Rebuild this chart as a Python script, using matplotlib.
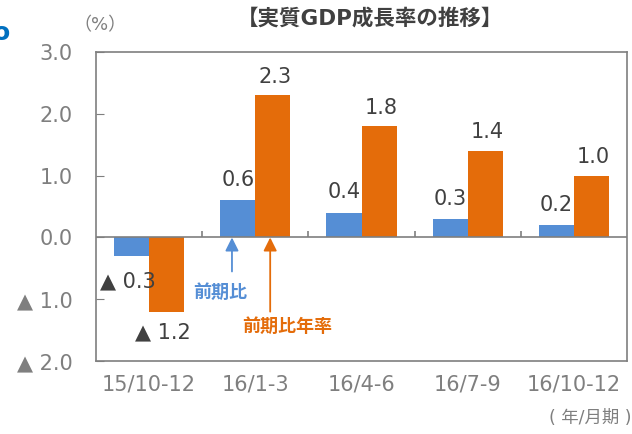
import matplotlib.pyplot as plt
import numpy as np

plt.rcParams['font.family'] = ['DejaVu Sans', 'Noto Sans CJK JP']

quarters = ["15/10-12", "16/1-3", "16/4-6", "16/7-9", "16/10-12"]
qoq = [-0.3, 0.6, 0.4, 0.3, 0.2]          # 前期比
annualized = [-1.2, 2.3, 1.8, 1.4, 1.0]   # 前期比年率
yticks = [-2.0, -1.0, 0.0, 1.0, 2.0, 3.0]

blue = "#558ed5"
orange = "#e46c0a"
grey = "#7f7f7f"
dark = "#404040"


def fmt(v):
    return f"▲ {abs(v):.1f}" if v < 0 else f"{v:.1f}"


fig = plt.figure(figsize=(6.32, 4.34), dpi=100)
ax = fig.add_axes([0.152, 0.168, 0.840, 0.712])

x = np.arange(len(quarters))
w = 0.33
ax.bar(x - w / 2, qoq, w, color=blue, zorder=2)
ax.bar(x + w / 2, annualized, w, color=orange, zorder=2)

ax.set_xlim(-0.5, len(quarters) - 0.5)
ax.set_ylim(-2.0, 3.0)
ax.set_yticks(yticks)
ax.set_yticklabels([fmt(v) for v in yticks], color=grey, fontsize=15)
ax.tick_params(axis="y", direction="in", length=6, color=grey, pad=17)
ax.set_xticks(x)
ax.set_xticklabels(quarters, color=grey, fontsize=15)
ax.tick_params(axis="x", length=0, pad=10)

for s in ax.spines.values():
    s.set_color(grey)
    s.set_linewidth(1.2)

ax.axhline(0, color=grey, lw=1.2, zorder=3)
ax.vlines(x[:-1] + 0.5, 0, 0.1, color=grey, lw=1.2, zorder=3)

# value labels
for i, v in enumerate(qoq):
    if v >= 0:
        ax.text(x[i] - w / 2, v + 0.33, fmt(v), ha="center", va="center",
                fontsize=15, color=dark)
    else:
        ax.text(x[i] - w / 2 - 0.04, v - 0.41, fmt(v), ha="center", va="center",
                fontsize=15, color=dark)
for i, v in enumerate(annualized):
    if v >= 0:
        ax.text(x[i] + w / 2 + 0.02, v + 0.3, fmt(v), ha="center", va="center",
                fontsize=15, color=dark)
    else:
        ax.text(x[i] + w / 2 - 0.035, v - 0.33, fmt(v), ha="center", va="center",
                fontsize=15, color=dark)

# series callouts
ax.annotate("", xy=(0.78, 0.0), xytext=(0.78, -0.55),
            arrowprops=dict(arrowstyle="-|>", color=blue, lw=1.3,
                            mutation_scale=20, shrinkA=0, shrinkB=0))
ax.text(0.67, -0.9, "前期比", color=blue, fontsize=13, fontweight="bold",
        ha="center", va="center")
ax.annotate("", xy=(1.14, 0.0), xytext=(1.14, -1.2),
            arrowprops=dict(arrowstyle="-|>", color=orange, lw=1.3,
                            mutation_scale=20, shrinkA=0, shrinkB=0))
ax.text(1.3, -1.45, "前期比年率", color=orange, fontsize=13, fontweight="bold",
        ha="center", va="center")

fig.text(0.585, 0.958, "【実質GDP成長率の推移】", ha="center", va="center",
         fontsize=15.5, fontweight="bold", color=dark)
fig.text(0.158, 0.942, "（%）", ha="center", va="center", fontsize=13, color=grey)
fig.text(0.934, 0.038, "( 年/月期 )", ha="center", va="center", fontsize=12.5, color=grey)
fig.text(-0.012, 0.925, "o", ha="left", va="center", fontsize=18,
         fontweight="bold", color="#0070c0")

fig.savefig("out.png", dpi=100)
